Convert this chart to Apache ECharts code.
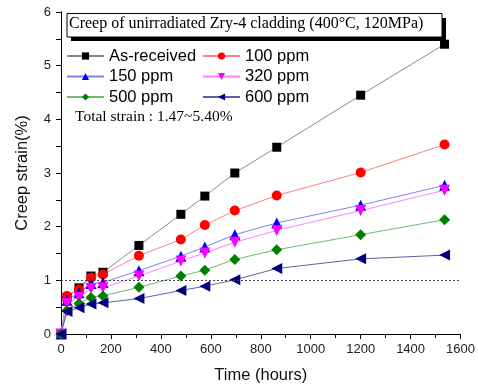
<!DOCTYPE html>
<html>
<head>
<meta charset="utf-8">
<script src="https://cdn.jsdelivr.net/npm/echarts@6/dist/echarts.min.js"></script>
<style>
  html, body { margin: 0; padding: 0; background: #fff; }
  #chart { width: 478px; height: 389px; }
</style>
</head>
<body>
<div id="chart"></div>
<script>
// time points (hours)
const hours = [0, 24, 72, 120, 168, 312, 480, 576, 696, 864, 1200, 1536];

// creep strain (%)
const asReceived = [0, 0.68, 0.86, 1.08, 1.15, 1.65, 2.23, 2.57, 3.0, 3.48, 4.45, 5.40];
const ppm100 = [0, 0.71, 0.83, 1.05, 1.11, 1.46, 1.76, 2.03, 2.30, 2.58, 3.01, 3.53];
const ppm150 = [0, 0.63, 0.77, 0.94, 0.96, 1.18, 1.45, 1.62, 1.85, 2.07, 2.40, 2.77];
const ppm320 = [0, 0.57, 0.68, 0.85, 0.86, 1.08, 1.36, 1.51, 1.71, 1.93, 2.30, 2.68];
const ppm500 = [0, 0.44, 0.57, 0.68, 0.71, 0.87, 1.08, 1.19, 1.39, 1.57, 1.85, 2.13];
const ppm600 = [0, 0.42, 0.49, 0.56, 0.58, 0.66, 0.81, 0.89, 1.01, 1.22, 1.40, 1.47];

const seriesNames = ['As-received', '100 ppm', '150 ppm', '320 ppm', '500 ppm', '600 ppm'];

const pairs = vals => hours.map((h, i) => [h, vals[i]]);

const chart = echarts.init(document.getElementById('chart'));

const sans = 'Liberation Sans, Arial, sans-serif';
const serif = 'Liberation Serif, Times New Roman, serif';

// helper for one line series
function makeSeries(name, vals, symbol, rotate, markColor, lineColor, size) {
  return {
    name: name,
    type: 'line',
    data: pairs(vals),
    symbol: symbol,
    symbolRotate: rotate,
    symbolSize: size,
    itemStyle: { color: markColor },
    lineStyle: { color: lineColor, width: 1 },
    emphasis: { disabled: true },
    z: 3
  };
}

const series = [
  makeSeries(seriesNames[0], asReceived, 'rect', 0, '#000000', '#8a8a8a', 9),
  makeSeries(seriesNames[1], ppm100, 'circle', 0, '#ff0000', '#ff8080', 10),
  makeSeries(seriesNames[2], ppm150, 'triangle', 0, '#0000ff', '#8080ff', 11),
  makeSeries(seriesNames[3], ppm320, 'triangle', 180, '#ff00ff', '#ff80ff', 11),
  makeSeries(seriesNames[4], ppm500, 'diamond', 0, '#008000', '#70b870', 11),
  makeSeries(seriesNames[5], ppm600, 'triangle', 90, '#000080', '#6060a8', 11)
];

// dotted reference line at 1 %
series[0].markLine = {
  silent: true,
  symbol: 'none',
  label: { show: false },
  lineStyle: { color: '#444', type: [2, 2], width: 1 },
  data: [{ yAxis: 1 }]
};

const legendCommon = {
  orient: 'vertical',
  itemWidth: 37,
  itemHeight: 9,
  itemGap: 2.5,
  textStyle: { fontFamily: sans, fontSize: 16.5, lineHeight: 18, color: '#000' },
  inactiveColor: '#000',
  selectedMode: false
};

const option = {
  animation: false,
  backgroundColor: '#fff',
  grid: { left: 61, right: 16, top: 12, bottom: 54 },
  legend: [
    Object.assign({ left: 61, top: 42, data: [seriesNames[0], seriesNames[2], seriesNames[4]] }, legendCommon),
    Object.assign({ left: 197, top: 42, data: [seriesNames[1], seriesNames[3], seriesNames[5]] }, legendCommon)
  ],
  xAxis: [
    {
      type: 'value',
      min: 0, max: 1600, interval: 200,
      name: 'Time (hours)',
      nameLocation: 'middle',
      nameGap: 33,
      nameTextStyle: { fontFamily: sans, fontSize: 16.5, color: '#111' },
      axisLine: { show: true, lineStyle: { color: '#000', width: 1 } },
      axisTick: { show: true, inside: false, length: 5, lineStyle: { color: '#000' } },
      minorTick: { show: true, splitNumber: 2, length: 3, lineStyle: { color: '#000' } },
      axisLabel: { fontFamily: sans, fontSize: 13, color: '#222', margin: 9, formatter: v => String(v) },
      splitLine: { show: false }
    },
    {
      type: 'value',
      position: 'top',
      min: 0, max: 1600, interval: 200,
      axisLine: { show: true, lineStyle: { color: '#000', width: 1 } },
      axisTick: { show: true, inside: true, length: 4, lineStyle: { color: '#000' } },
      minorTick: { show: true, splitNumber: 2, length: 4, lineStyle: { color: '#000' } },
      axisLabel: { show: false },
      splitLine: { show: false }
    }
  ],
  yAxis: [
    {
      type: 'value',
      min: 0, max: 6, interval: 1,
      name: 'Creep strain(%)',
      nameLocation: 'middle',
      nameGap: 30,
      nameTextStyle: { fontFamily: sans, fontSize: 16.5, color: '#111' },
      axisLine: { show: true, lineStyle: { color: '#000', width: 1 } },
      axisTick: { show: true, inside: false, length: 5, lineStyle: { color: '#000' } },
      minorTick: { show: true, splitNumber: 2, length: 3, lineStyle: { color: '#000' } },
      axisLabel: { fontFamily: sans, fontSize: 13, color: '#222', margin: 10 },
      splitLine: { show: false }
    },
    {
      type: 'value',
      position: 'right',
      min: 0, max: 6, interval: 1,
      axisLine: { show: true, lineStyle: { color: '#000', width: 1 } },
      axisTick: { show: true, inside: true, length: 5, lineStyle: { color: '#000' } },
      minorTick: { show: true, splitNumber: 2, length: 5, lineStyle: { color: '#000' } },
      axisLabel: { show: false },
      splitLine: { show: false }
    }
  ],
  graphic: [
    // title box with a heavy drop shadow
    { type: 'rect', left: 71, top: 18, shape: { width: 375, height: 23 }, style: { fill: '#000' }, z: 10 },
    { type: 'rect', left: 66.5, top: 13, shape: { width: 375, height: 23.5 }, style: { fill: '#fff', stroke: '#000', lineWidth: 1 }, z: 11 },
    {
      type: 'text', left: 69, top: 16, z: 12,
      style: { text: 'Creep of unirradiated Zry-4 cladding (400°C, 120MPa)', font: '16px ' + serif, fill: '#000' }
    },
    {
      type: 'text', left: 75, top: 109, z: 12,
      style: { text: 'Total strain : 1.47~5.40%', font: '15.5px ' + serif, fill: '#000' }
    }
  ],
  series: series
};

chart.setOption(option);
</script>
</body>
</html>
